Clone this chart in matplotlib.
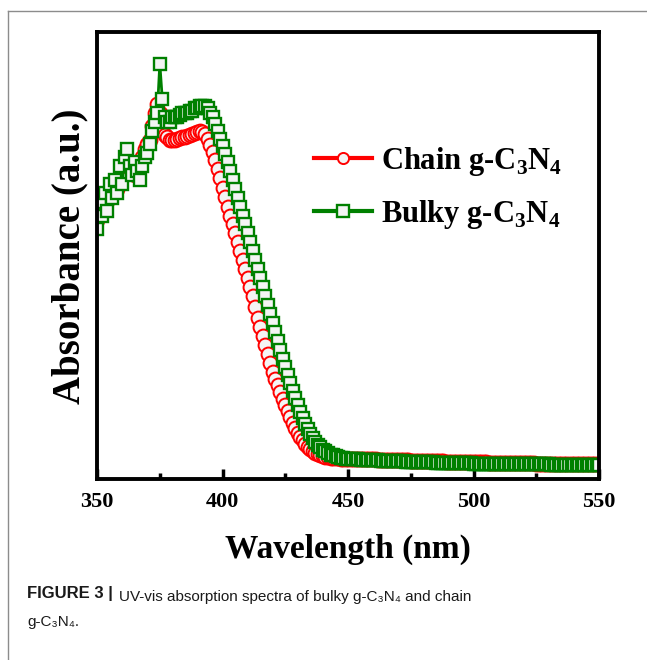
"""
UV-vis absorption spectra of chain and bulky g-C3N4.
"""

import matplotlib
matplotlib.use("Agg")
from matplotlib import pyplot as plt
from matplotlib.lines import Line2D
from matplotlib.ticker import MultipleLocator, NullLocator

plt.rcParams["font.family"] = ["Liberation Serif", "DejaVu Serif"]
plt.rcParams["mathtext.fontset"] = "custom"
plt.rcParams["mathtext.rm"] = "Liberation Serif:bold"
plt.rcParams["mathtext.bf"] = "Liberation Serif:bold"

# wavelength 350..550 nm, one reading per nm
wavelength = list(range(350, 551))

chain = [
    0.58, 0.60, 0.61, 0.62, 0.63, 0.63, 0.64, 0.645, 0.65, 0.66,    # 350
    0.68, 0.69, 0.70, 0.70, 0.69, 0.68, 0.69, 0.71, 0.72, 0.74,     # 360
    0.75, 0.76, 0.79, 0.82, 0.84, 0.82, 0.79, 0.77, 0.765, 0.76,    # 370
    0.76, 0.76, 0.762, 0.764, 0.765, 0.766, 0.768, 0.77, 0.772, 0.775,  # 380
    0.778, 0.78, 0.778, 0.772, 0.762, 0.748, 0.732, 0.714, 0.695, 0.674,  # 390
    0.652, 0.631, 0.61, 0.59, 0.57, 0.55, 0.53, 0.51, 0.49, 0.47,   # 400
    0.45, 0.43, 0.41, 0.385, 0.36, 0.34, 0.32, 0.30, 0.28, 0.26,    # 410
    0.24, 0.225, 0.21, 0.195, 0.18, 0.166, 0.152, 0.139, 0.126, 0.115,  # 420
    0.104, 0.095, 0.087, 0.079, 0.073, 0.068, 0.063, 0.059, 0.056, 0.053,  # 430
    0.051, 0.05, 0.049, 0.048, 0.048, 0.047, 0.047, 0.046, 0.046, 0.046,  # 440
    0.045, 0.045, 0.045, 0.045, 0.045, 0.044, 0.044, 0.044, 0.044, 0.044,  # 450
    0.044, 0.044, 0.043, 0.043, 0.043, 0.043, 0.043, 0.043, 0.042, 0.042,  # 460
    0.042, 0.042, 0.042, 0.042, 0.042, 0.041, 0.041, 0.041, 0.041, 0.041,  # 470
    0.041, 0.041, 0.040, 0.040, 0.040, 0.040, 0.040, 0.040, 0.040, 0.039,  # 480
    0.039, 0.039, 0.039, 0.039, 0.039, 0.039, 0.039, 0.038, 0.038, 0.038,  # 490
    0.038, 0.038, 0.038, 0.038, 0.038, 0.038, 0.037, 0.037, 0.037, 0.037,  # 500
    0.037, 0.037, 0.037, 0.037, 0.037, 0.036, 0.036, 0.036, 0.036, 0.036,  # 510
    0.036, 0.036, 0.036, 0.036, 0.036, 0.035, 0.035, 0.035, 0.035, 0.035,  # 520
    0.035, 0.035, 0.035, 0.035, 0.035, 0.035, 0.034, 0.034, 0.034, 0.034,  # 530
    0.034, 0.034, 0.034, 0.034, 0.034, 0.034, 0.034, 0.034, 0.034, 0.034,  # 540
    0.034,                                                          # 550
]

bulky = [
    0.56, 0.62, 0.59, 0.64, 0.60, 0.66, 0.63, 0.67, 0.64, 0.70,     # 350
    0.66, 0.72, 0.74, 0.70, 0.68, 0.71, 0.69, 0.67, 0.70, 0.72,     # 360
    0.73, 0.75, 0.78, 0.80, 0.82, 0.93, 0.85, 0.81, 0.80, 0.80,     # 370
    0.81, 0.81, 0.81, 0.815, 0.82, 0.82, 0.82, 0.825, 0.825, 0.83,  # 380
    0.83, 0.835, 0.835, 0.835, 0.83, 0.82, 0.81, 0.795, 0.78, 0.762,  # 390
    0.745, 0.728, 0.71, 0.69, 0.67, 0.65, 0.63, 0.61, 0.59, 0.57,   # 400
    0.55, 0.53, 0.51, 0.49, 0.47, 0.45, 0.43, 0.41, 0.39, 0.37,     # 410
    0.35, 0.33, 0.31, 0.29, 0.27, 0.25, 0.232, 0.215, 0.198, 0.182,  # 420
    0.166, 0.151, 0.137, 0.124, 0.112, 0.101, 0.092, 0.084, 0.077, 0.071,  # 430
    0.066, 0.062, 0.058, 0.055, 0.053, 0.051, 0.049, 0.048, 0.047, 0.046,  # 440
    0.045, 0.045, 0.044, 0.044, 0.044, 0.043, 0.043, 0.043, 0.043, 0.042,  # 450
    0.042, 0.042, 0.042, 0.041, 0.041, 0.041, 0.041, 0.041, 0.040, 0.040,  # 460
    0.040, 0.040, 0.040, 0.039, 0.039, 0.039, 0.039, 0.039, 0.039, 0.038,  # 470
    0.038, 0.038, 0.038, 0.038, 0.038, 0.037, 0.037, 0.037, 0.037, 0.037,  # 480
    0.037, 0.037, 0.036, 0.036, 0.036, 0.036, 0.036, 0.036, 0.036, 0.036,  # 490
    0.035, 0.035, 0.035, 0.035, 0.035, 0.035, 0.035, 0.035, 0.035, 0.034,  # 500
    0.034, 0.034, 0.034, 0.034, 0.034, 0.034, 0.034, 0.034, 0.034, 0.033,  # 510
    0.033, 0.033, 0.033, 0.033, 0.033, 0.033, 0.033, 0.033, 0.033, 0.033,  # 520
    0.033, 0.032, 0.032, 0.032, 0.032, 0.032, 0.032, 0.032, 0.032, 0.032,  # 530
    0.032, 0.032, 0.032, 0.032, 0.032, 0.032, 0.032, 0.032, 0.032, 0.032,  # 540
    0.032,                                                          # 550
]

labels = [r"Chain g-C$_\mathbf{3}$N$_\mathbf{4}$", r"Bulky g-C$_\mathbf{3}$N$_\mathbf{4}$"]
x_ticks = [350, 400, 450, 500, 550]

fig = plt.figure(figsize=(6.47, 6.60), dpi=100)
ax = fig.add_axes([0.150, 0.274, 0.776, 0.677])

ax.plot(wavelength, chain, "-", color="#ff0000", lw=2.0, marker="o", ms=10,
        mfc="#f4f4f4", mec="#ff0000", mew=1.4, label=labels[0])
ax.plot(wavelength, bulky, "-", color="#008000", lw=2.0, marker="s", ms=9,
        mfc="#f4f4f4", mec="#008000", mew=1.7, label=labels[1])

ax.set_xlim(350, 550)
ax.set_ylim(0, 1)
ax.set_xticks(x_ticks)
ax.xaxis.set_minor_locator(MultipleLocator(25))
ax.yaxis.set_major_locator(NullLocator())
ax.tick_params(axis="x", which="major", direction="in", length=7, width=2.5,
               labelsize=16, pad=9)
ax.tick_params(axis="x", which="minor", direction="in", length=4, width=2.5)
for lab in ax.get_xticklabels():
    lab.set_fontweight("bold")
for sp in ax.spines.values():
    sp.set_linewidth(2.8)

ax.set_xlabel("Wavelength (nm)", fontsize=24, fontweight="bold", labelpad=16)
ax.set_ylabel("Absorbance (a.u.)", fontsize=28, fontweight="bold", labelpad=6)

leg = ax.legend(loc="upper left", bbox_to_anchor=(0.432, 0.748), frameon=False,
                fontsize=22, handlelength=1.9, handletextpad=0.3,
                labelspacing=0.65, borderaxespad=0, borderpad=0)
for t in leg.get_texts():
    t.set_fontweight("bold")
for h in leg.legend_handles:
    h.set_linewidth(3)
    h.set_markersize(8)

# journal page frame
fig.add_artist(Line2D([0.013, 1.0], [0.983, 0.983], color="#8c8c8c", lw=1.0))
fig.add_artist(Line2D([0.013, 0.013], [0.0, 0.983], color="#8c8c8c", lw=1.0))

sans = ["Liberation Sans", "DejaVu Sans"]
cap = dict(va="baseline", color="#1a1a1a", family=sans)
head = fig.text(0.042, 0.094, "FIGURE 3 |", fontweight="bold", fontsize=12, **cap)
fig.add_artist(plt.Annotation(
    "UV-vis absorption spectra of bulky g-C₃N₄ and chain",
    xy=(1, 0), xycoords=head, xytext=(4, 0), textcoords="offset points",
    fontsize=11, **cap))
fig.text(0.042, 0.052, "g-C₃N₄.", fontsize=11, **cap)

fig.savefig("out.png", dpi=100)
plt.close()
